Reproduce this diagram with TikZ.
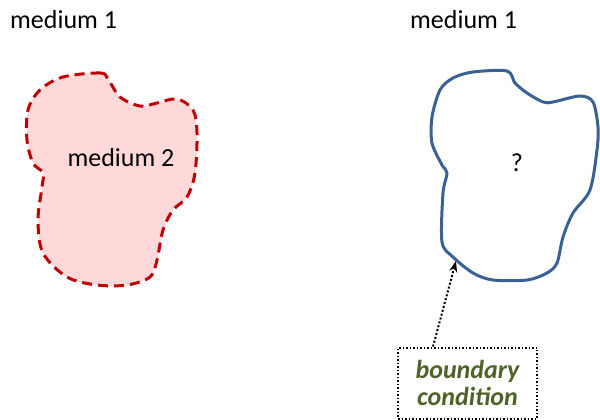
\documentclass[tikz,border=0pt]{standalone}
\usepackage{fontspec}
\setmainfont{Carlito}
\usetikzlibrary{arrows.meta}
\definecolor{bred}{HTML}{C00000}
\definecolor{bpink}{HTML}{FFD9D9}
\definecolor{bblue}{HTML}{3A6195}
\definecolor{bgreen}{HTML}{4F6228}
\begin{document}
\begin{tikzpicture}[x=1pt,y=-1pt,
  lbl/.style={font=\fontsize{26}{31}\selectfont, inner sep=0pt},
  bcbox/.style={draw, line width=2pt, dash pattern=on 1.5pt off 2pt, font=\fontsize{26}{31}\selectfont\bfseries\itshape, text=bgreen, align=center, minimum width=139pt, minimum height=71pt, inner sep=0pt},
  blobred/.style={draw=bred, fill=bpink, line width=3pt, dash pattern=on 10pt off 6pt},
  blobblue/.style={draw=bblue, line width=3pt, line join=round}]
\useasboundingbox (0,0) rectangle (600,420);
% left medium
\draw[blobred] plot[smooth cycle, tension=0.55] coordinates {
 (63,77) (100,73) (108,79) (120,97) (140,106) (157,103) (177,99) (193,110)
 (197,133) (195,173) (187,197) (173,210) (163,230) (157,260) (150,277)
 (127,285) (97,285) (67,277) (43,253) (38,220) (42,187) (43,173)
 (33,163) (27,140) (28,110) (40,90)};
% right medium
\draw[blobblue] plot[smooth cycle, tension=0.5] coordinates {
 (473,72) (507,71) (515,83) (527,93) (543,102) (553,102) (580,96) (593,102)
 (598,127) (597,150) (590,190) (573,213) (563,237) (557,263) (547,273)
 (527,280) (493,280) (473,273) (453,257) (442,242) (443,193) (447,173)
 (442,165) (432,143) (432,117) (440,90) (453,78)};
\node[lbl, anchor=west] (m1l) at (10,20) {medium 1};
\node[lbl, anchor=west] (m1r) at (410,20) {medium 1};
\node[lbl] (m2) at (121,158) {medium 2};
\node[lbl] (q) at (517,163) {?};
\node[bcbox] (bc) at (467.5,383) {boundary\\[-4pt]condition};
\coordinate (tip) at (456,261);
\draw[line width=2pt, dash pattern=on 2pt off 2pt, -{Stealth[length=11pt,width=8pt]}] (bc.north -| 433,0) -- (tip);
\end{tikzpicture}
\end{document}
